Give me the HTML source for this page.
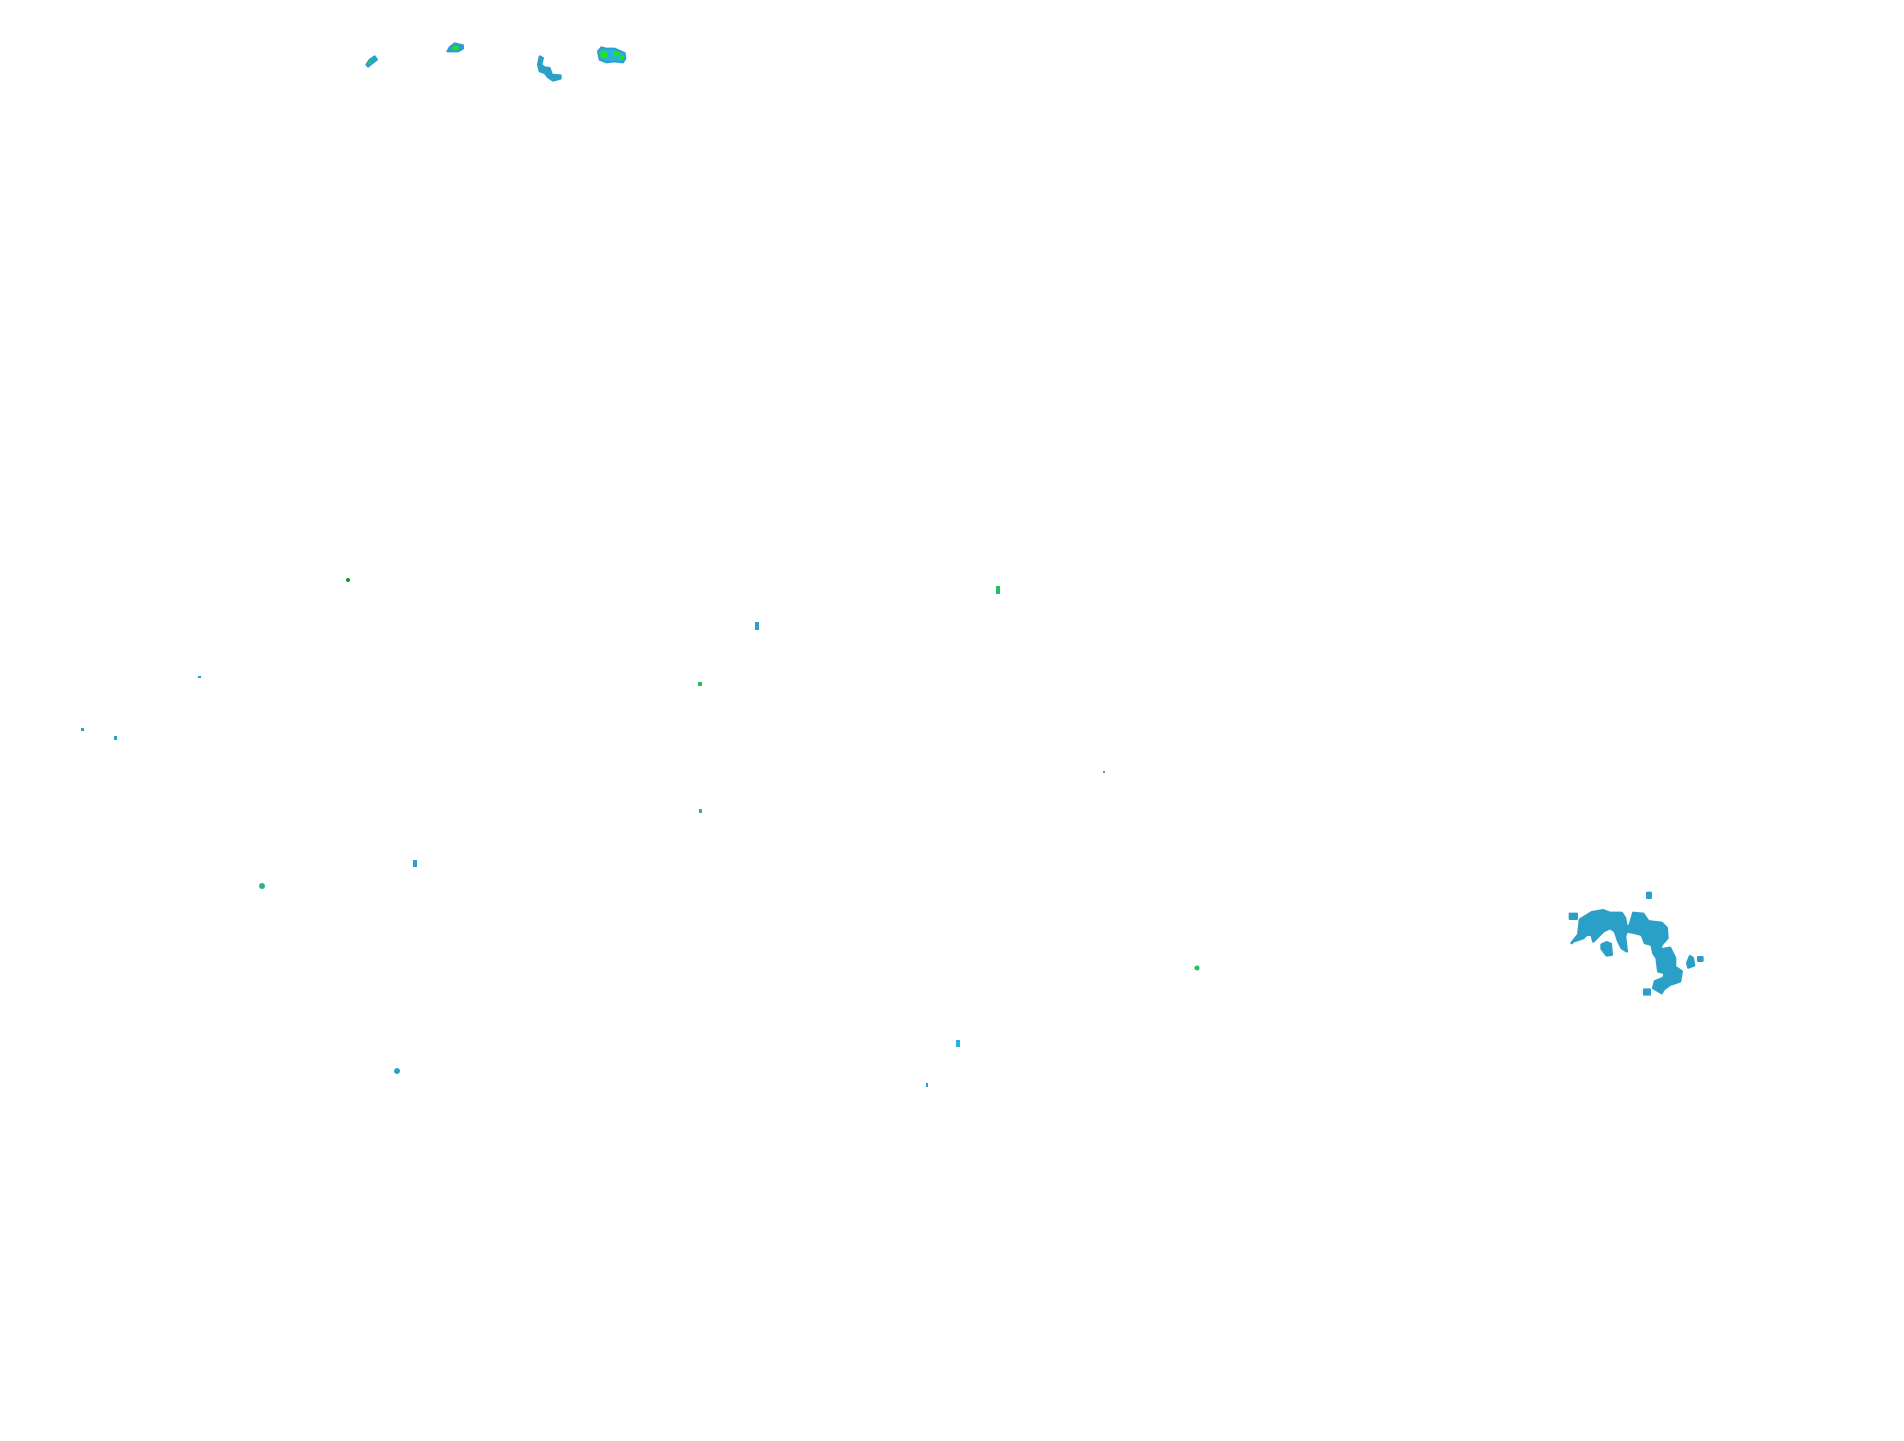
<!DOCTYPE html>
<html><head><meta charset="utf-8"><style>html,body{margin:0;padding:0;background:#fff;width:1904px;height:1441px;overflow:hidden}</style></head>
<body>
<svg width="1904" height="1441" viewBox="0 0 1904 1441" xmlns="http://www.w3.org/2000/svg">
<rect width="1904" height="1441" fill="#fff"/>
<g transform="translate(1560,878) scale(0.3333)" fill="#2a9fc8" stroke="#2a9fc8" stroke-width="8" stroke-linejoin="round">
<polygon points="35,195 55,170 60,125 95,103 130,97 150,105 185,105 195,120 200,150 210,140 220,105 250,108 265,130 305,135 320,150 322,180 305,200 300,215 330,210 345,240 345,270 335,280 350,270 365,280 360,310 330,320 310,335 305,345 280,330 285,310 310,300 315,285 295,280 290,240 280,225 275,200 255,195 245,170 225,165 200,160 195,175 200,220 185,210 175,190 165,160 150,150 130,160 115,175 100,190 95,170 80,170 70,180 40,190"/>
<rect x="30" y="108" width="20" height="14"/>
<rect x="262" y="45" width="10" height="14"/>
<polygon points="125,200 140,193 152,198 155,230 140,232 125,212"/>
<polygon points="382,255 390,235 398,240 402,262 385,268"/>
<rect x="415" y="238" width="12" height="10"/>
<rect x="253" y="335" width="16" height="14"/>
</g>
<g transform="translate(348,28) scale(0.3333)" stroke-width="6" stroke-linejoin="round">
<polygon fill="#2a9fc8" stroke="#2a9fc8" points="55,110 65,95 80,85 87,95 70,108 60,116"/>
<circle cx="66" cy="104" r="4" fill="#1fe01f"/>
<polygon fill="#2a9fc8" stroke="#2a9fc8" points="298,70 305,58 320,46 345,52 345,62 330,70 305,70"/>
<ellipse cx="322" cy="60" rx="10" ry="7" fill="#22e022"/>
<polygon fill="#2a9fc8" stroke="#2a9fc8" points="575,85 585,90 580,110 590,118 605,120 612,140 638,142 638,152 615,158 600,148 590,135 575,130 570,110"/>
<polygon fill="#2ab0e0" stroke="#2a9fc8" points="750,70 760,58 775,62 800,62 830,75 832,92 825,103 800,100 775,103 755,95"/>
<ellipse cx="768" cy="80" rx="12" ry="12" fill="#22e022"/>
<ellipse cx="805" cy="78" rx="10" ry="8" fill="#22e022"/>
<ellipse cx="822" cy="88" rx="7" ry="6" fill="#22e022"/>
</g>
<g>
<circle cx="348" cy="580" r="2" fill="#0a9a2a"/>
<rect x="996" y="586" width="4" height="8" fill="#22c060"/>
<rect x="755" y="622" width="4" height="8" fill="#2a9fc8"/>
<rect x="198" y="676" width="3" height="2" fill="#2a9fc8"/>
<rect x="698" y="682" width="4" height="4" fill="#22c060"/>
<rect x="81" y="728" width="3" height="3" fill="#2a9fc8"/>
<rect x="114" y="736" width="3" height="4" fill="#2a9fc8"/>
<rect x="1103" y="771" width="2" height="2" fill="#888"/>
<rect x="699" y="809" width="3" height="4" fill="#22c060"/>
<rect x="413" y="860" width="4" height="7" fill="#2a9fc8"/>
<circle cx="262" cy="886" r="3" fill="#2ab090"/>
<circle cx="1197" cy="968" r="2.5" fill="#22c060"/>
<rect x="956" y="1040" width="4" height="7" fill="#2ab0e0"/>
<circle cx="397" cy="1071" r="3" fill="#2a9fc8"/>
<rect x="926" y="1083" width="2" height="4" fill="#2a9fc8"/>
</g>
</svg>
</body></html>
